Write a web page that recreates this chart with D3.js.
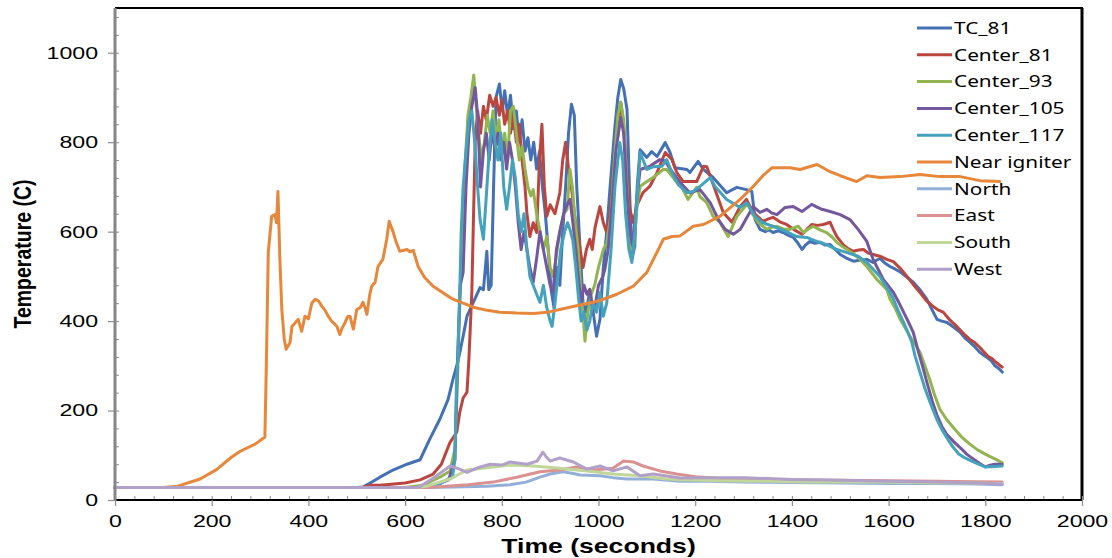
<!DOCTYPE html>
<html>
<head>
<meta charset="utf-8">
<script src="https://cdn.jsdelivr.net/npm/d3@7"></script>
<style>
  html, body { margin: 0; padding: 0; background: #fff; }
  svg { display: block; }
</style>
</head>
<body>
<svg id="chart" width="1112" height="558"></svg>
<script>
// Thermocouple readings, [time in s, temperature in C]
const tc81 = [[0,28],[500,28],[513,29],[534,42],[548,51],[575,67],[604,80],[631,90],[651,136],[672,181],[689,225],[699,270],[709,308],[720,366],[728,411],[741,442],[755,475],[762,470],[769,556],[773,470],[778,480],[783,700],[788,900],[795,930],[801,870],[806,915],[812,860],[818,905],[824,830],[830,870],[836,800],[842,850],[848,780],[854,810],[860,760],[866,800],[872,740],[878,780],[884,700],[890,640],[896,560],[902,470],[908,430],[914,520],[920,480],[926,600],[932,700],[938,820],[944,885],[950,860],[955,700],[962,560],[968,440],[975,420],[982,470],[989,420],[996,366],[1003,404],[1010,520],[1017,600],[1024,700],[1034,835],[1040,900],[1046,940],[1052,920],[1059,873],[1064,700],[1069,538],[1075,567],[1080,700],[1086,783],[1100,766],[1110,779],[1121,768],[1138,799],[1148,777],[1158,743],[1183,739],[1189,732],[1206,757],[1217,739],[1237,721],[1265,687],[1286,699],[1306,694],[1317,690],[1324,627],[1334,605],[1345,600],[1352,604],[1361,598],[1372,602],[1382,598],[1392,592],[1403,587],[1412,575],[1421,560],[1428,570],[1437,578],[1448,574],[1458,576],[1468,570],[1479,571],[1490,560],[1500,549],[1514,540],[1527,534],[1540,536],[1555,538],[1568,531],[1575,536],[1582,540],[1592,530],[1603,522],[1614,516],[1624,510],[1638,498],[1651,487],[1665,470],[1679,449],[1690,425],[1700,404],[1710,400],[1721,397],[1735,386],[1748,375],[1758,362],[1768,353],[1778,343],[1789,330],[1796,324],[1803,319],[1812,312],[1820,300],[1828,294],[1835,286]];

const center81 = [[0,28],[510,28],[530,33],[548,33],[600,38],[631,45],[658,58],[675,80],[693,129],[707,152],[713,196],[720,228],[728,241],[732,315],[738,464],[741,612],[745,800],[750,870],[756,820],[762,880],[768,850],[775,905],[782,880],[788,900],[795,860],[800,895],[806,840],[812,870],[818,820],[824,860],[830,800],[836,840],[842,760],[848,700],[852,640],[858,589],[865,620],[872,598],[878,760],[883,840],[888,700],[893,634],[900,660],[910,640],[920,687],[926,760],[932,800],[938,740],[944,700],[950,640],[956,600],[962,560],[968,520],[975,560],[982,583],[987,560],[993,610],[1003,656],[1010,620],[1017,598],[1024,640],[1030,720],[1038,820],[1046,888],[1052,840],[1058,740],[1065,650],[1072,620],[1080,660],[1092,687],[1106,701],[1121,732],[1138,777],[1152,761],[1162,732],[1175,712],[1203,712],[1217,746],[1224,745],[1241,694],[1258,643],[1276,621],[1293,656],[1306,672],[1320,643],[1340,623],[1350,628],[1361,632],[1375,622],[1389,616],[1405,604],[1421,594],[1431,605],[1441,616],[1453,614],[1465,616],[1479,621],[1486,604],[1493,589],[1506,571],[1516,562],[1527,556],[1538,559],[1548,560],[1558,552],[1568,549],[1582,545],[1596,538],[1610,533],[1624,518],[1638,500],[1651,482],[1665,464],[1678,446],[1692,433],[1702,425],[1713,420],[1727,402],[1741,388],[1755,372],[1768,359],[1778,352],[1789,341],[1798,330],[1806,321],[1814,316],[1820,310],[1828,303],[1835,297]];

const center93 = [[0,28],[600,28],[637,33],[672,51],[693,65],[703,114],[707,225],[712,400],[718,600],[724,750],[730,860],[736,900],[742,950],[747,880],[752,820],[758,760],[764,800],[770,860],[776,820],[782,870],[788,800],[794,850],[800,780],[806,820],[812,760],[818,870],[824,880],[830,820],[836,760],[842,790],[848,740],[854,700],[860,680],[865,694],[872,640],[879,600],[886,560],[893,589],[900,520],[906,500],[912,540],[920,600],[928,640],[935,650],[941,739],[946,700],[952,620],[958,560],[964,460],[969,400],[972,355],[978,420],[985,460],[992,480],[1000,520],[1010,560],[1017,575],[1026,640],[1034,780],[1040,860],[1046,890],[1052,850],[1058,720],[1066,560],[1072,560],[1080,660],[1086,701],[1100,712],[1113,721],[1134,739],[1141,739],[1162,710],[1172,700],[1185,672],[1203,699],[1210,678],[1224,665],[1237,634],[1251,621],[1268,589],[1286,634],[1303,656],[1309,661],[1318,640],[1330,621],[1348,605],[1358,610],[1369,612],[1382,606],[1396,605],[1413,612],[1424,598],[1434,606],[1444,612],[1458,604],[1472,598],[1483,588],[1493,576],[1504,567],[1514,560],[1528,550],[1541,538],[1555,522],[1565,508],[1576,493],[1586,482],[1596,471],[1603,449],[1614,428],[1624,404],[1634,385],[1644,366],[1655,348],[1665,330],[1675,300],[1685,270],[1695,235],[1706,203],[1720,180],[1737,158],[1752,140],[1768,125],[1784,112],[1799,103],[1810,97],[1820,92],[1835,83]];

const center105 = [[0,28],[620,28],[660,32],[690,45],[703,90],[708,300],[714,480],[720,509],[726,700],[732,820],[738,880],[745,922],[750,860],[756,700],[762,780],[768,820],[774,760],[780,830],[786,780],[792,820],[798,760],[804,800],[810,740],[816,800],[822,760],[828,700],[834,620],[840,560],[846,600],[852,560],[858,520],[865,487],[872,540],[879,600],[886,560],[893,520],[900,480],[906,464],[913,560],[920,600],[928,640],[935,660],[941,672],[947,620],[953,560],[958,500],[964,440],[970,480],[976,460],[982,471],[988,420],[994,440],[1000,480],[1009,500],[1013,515],[1020,560],[1028,660],[1036,780],[1046,855],[1052,820],[1058,700],[1065,600],[1070,570],[1078,660],[1086,739],[1106,746],[1127,761],[1138,758],[1148,740],[1169,710],[1189,687],[1210,694],[1231,665],[1248,627],[1262,605],[1279,594],[1293,605],[1306,630],[1320,656],[1334,643],[1348,650],[1358,642],[1369,638],[1386,654],[1403,656],[1421,645],[1441,661],[1452,655],[1462,650],[1479,645],[1500,638],[1520,627],[1537,605],[1555,578],[1568,538],[1589,493],[1600,478],[1610,464],[1621,442],[1631,420],[1641,398],[1651,375],[1662,330],[1670,300],[1680,260],[1690,222],[1700,190],[1710,165],[1720,147],[1735,130],[1750,115],[1762,102],[1775,92],[1788,82],[1800,74],[1810,78],[1820,80],[1835,80]];

const center117 = [[0,28],[640,28],[670,35],[689,47],[698,50],[703,90],[706,250],[709,315],[713,464],[716,600],[720,700],[726,780],[732,850],[738,870],[744,800],[750,700],[755,627],[762,583],[768,680],[774,780],[780,850],[786,800],[792,760],[798,820],[804,700],[810,650],[816,700],[822,760],[828,720],[834,640],[840,600],[846,640],[852,560],[858,500],[865,480],[872,460],[879,442],[886,480],[893,430],[900,400],[904,388],[910,440],[916,500],[922,560],[930,600],[936,620],[941,605],[947,580],[953,520],[958,460],[964,400],[970,420],[976,380],[982,400],[988,440],[996,420],[1003,464],[1010,411],[1017,440],[1026,560],[1034,700],[1044,799],[1050,760],[1056,640],[1063,560],[1069,531],[1075,600],[1086,777],[1100,739],[1113,745],[1131,746],[1141,761],[1152,732],[1165,705],[1183,687],[1196,690],[1210,701],[1231,721],[1241,701],[1265,672],[1293,654],[1306,665],[1324,634],[1338,621],[1350,616],[1361,612],[1375,606],[1389,600],[1400,594],[1410,589],[1431,587],[1442,582],[1452,578],[1462,575],[1472,571],[1483,565],[1493,560],[1514,553],[1537,545],[1546,538],[1555,531],[1568,516],[1582,500],[1592,482],[1603,464],[1610,449],[1620,423],[1631,397],[1640,375],[1648,353],[1655,321],[1665,285],[1675,250],[1688,212],[1700,180],[1710,158],[1720,140],[1732,120],[1745,103],[1758,94],[1772,87],[1786,80],[1800,74],[1820,75],[1835,76]];

const nearIgniter = [[0,28],[100,28],[130,31],[176,47],[210,68],[240,95],[259,109],[290,125],[310,141],[313,300],[317,553],[324,634],[331,638],[334,620],[337,690],[341,540],[345,426],[350,360],[354,337],[362,352],[366,388],[372,395],[379,404],[386,377],[393,411],[400,405],[407,440],[414,449],[421,445],[428,433],[434,425],[441,411],[448,400],[453,395],[459,388],[465,370],[470,385],[476,397],[481,410],[486,411],[493,382],[500,426],[507,430],[513,442],[517,430],[521,415],[527,460],[531,478],[538,487],[544,522],[554,538],[562,583],[567,623],[575,600],[582,575],[589,556],[596,558],[604,560],[610,555],[617,558],[627,522],[640,498],[658,478],[680,462],[699,449],[720,440],[741,431],[770,424],[796,420],[830,418],[865,417],[895,420],[920,426],[950,433],[989,442],[1003,446],[1038,460],[1072,478],[1100,509],[1127,567],[1134,583],[1152,589],[1168,590],[1196,612],[1217,616],[1251,634],[1293,672],[1320,701],[1340,725],[1359,743],[1396,743],[1417,739],[1452,750],[1479,734],[1500,725],[1534,712],[1555,725],[1582,721],[1624,723],[1665,728],[1706,723],[1748,723],[1789,714],[1830,712]];

const north = [[0,28],[640,28],[700,29],[769,31],[817,34],[850,40],[879,51],[900,58],[927,63],[945,60],[962,56],[1003,54],[1030,50],[1059,47],[1113,47],[1169,42],[1230,42],[1300,40],[1400,39],[1500,38],[1600,37],[1700,37],[1780,36],[1835,34]];

const east = [[0,28],[650,28],[679,30],[730,34],[782,40],[831,51],[879,63],[920,67],[955,74],[989,67],[1030,71],[1045,82],[1051,87],[1072,85],[1092,76],[1127,65],[1162,58],[1200,52],[1250,48],[1300,47],[1400,45],[1500,44],[1600,43],[1700,42],[1780,41],[1835,40]];

const south = [[0,28],[620,28],[645,31],[693,47],[728,67],[782,74],[817,78],[865,76],[920,71],[976,65],[1030,58],[1086,54],[1141,47],[1169,45],[1250,43],[1350,42],[1450,40],[1550,40],[1650,39],[1750,38],[1835,37]];

const west = [[0,28],[625,28],[631,30],[660,50],[693,76],[710,70],[728,62],[750,72],[776,80],[800,78],[817,85],[852,80],[873,87],[885,107],[893,95],[900,87],[920,94],[948,85],[976,69],[1003,76],[1030,65],[1059,74],[1086,54],[1113,58],[1169,49],[1230,50],[1300,50],[1400,46],[1500,44],[1600,42],[1700,40],[1780,38],[1835,36]];

const seriesNames = ["TC_81", "Center_81", "Center_93", "Center_105", "Center_117",
                     "Near igniter", "North", "East", "South", "West"];
const seriesData = [tc81, center81, center93, center105, center117,
                    nearIgniter, north, east, south, west];
const seriesColors = ["#4470b4", "#bb4640", "#92b550", "#74589d", "#45a2bc",
                      "#e6873b", "#93afd8", "#d9928f", "#c1d699", "#b1a0c8"];

const xTicks = [0, 200, 400, 600, 800, 1000, 1200, 1400, 1600, 1800, 2000];
const yTicks = [0, 200, 400, 600, 800, 1000];

// ---- layout ----
const svg = d3.select("#chart");
const plotLeft = 115, plotRight = 1082, plotTop = 8, plotBottom = 500;
const x = d3.scaleLinear().domain([0, 2000]).range([plotLeft, plotRight]);
const y = d3.scaleLinear().domain([0, 1100]).range([plotBottom, plotTop]);
const SX = 1.36;   // horizontal stretch applied to text

// ---- series lines ----
const line = d3.line().x(d => x(d[0])).y(d => y(d[1]));
const lines = svg.append("g");
seriesData.forEach((data, i) => {
  lines.append("path")
    .datum(data)
    .attr("d", line)
    .attr("fill", "none")
    .attr("stroke", seriesColors[i])
    .attr("stroke-width", 3)
    .attr("stroke-linejoin", "round")
    .attr("stroke-linecap", "round");
});

// ---- frame ----
svg.append("line").attr("x1", plotLeft).attr("x2", plotRight + 1).attr("y1", plotTop).attr("y2", plotTop)
  .attr("stroke", "#000").attr("stroke-width", 2);
svg.append("line").attr("x1", plotRight).attr("x2", plotRight).attr("y1", plotTop).attr("y2", plotBottom)
  .attr("stroke", "#000").attr("stroke-width", 3);

// ---- minor ticks ----
const minorX = d3.range(0, 2001, 40);
const minorY = d3.range(0, 1101, 40);
svg.append("g").attr("transform", `translate(0,${plotBottom})`)
  .call(d3.axisTop(x).tickValues(minorX).tickSize(4).tickFormat(""))
  .call(g => g.select(".domain").remove())
  .call(g => g.selectAll("line").attr("stroke", "#8c8c8c").attr("stroke-width", 1));
svg.append("g").attr("transform", `translate(${plotLeft},0)`)
  .call(d3.axisRight(y).tickValues(minorY).tickSize(4).tickFormat(""))
  .call(g => g.select(".domain").remove())
  .call(g => g.selectAll("line").attr("stroke", "#8c8c8c").attr("stroke-width", 1));

// ---- bottom axis ----
const xAxis = svg.append("g").attr("transform", `translate(0,${plotBottom})`)
  .call(d3.axisBottom(x).tickValues(xTicks).tickSize(6).tickPadding(9).tickFormat(d3.format("d")));
xAxis.select(".domain").attr("stroke", "#000").attr("stroke-width", 2.2)
  .attr("d", `M${plotLeft},0H${plotRight}`);
xAxis.selectAll(".tick line").attr("stroke", "#8c8c8c").attr("stroke-width", 1.2);
xAxis.selectAll(".tick text")
  .attr("font-family", "'Liberation Sans', Arial, sans-serif")
  .attr("font-size", 17).attr("fill", "#000")
  .attr("transform", `scale(${SX},1)`);

// ---- left axis ----
const yAxis = svg.append("g").attr("transform", `translate(${plotLeft},0)`)
  .call(d3.axisLeft(y).tickValues(yTicks).tickSize(7).tickPadding(5.5).tickFormat(d3.format("d")));
yAxis.select(".domain").attr("stroke", "#858585").attr("stroke-width", 3)
  .attr("d", `M0,${plotTop}V${plotBottom + 1}`);
yAxis.selectAll(".tick line").attr("stroke", "#8c8c8c").attr("stroke-width", 1.2);
yAxis.selectAll(".tick text")
  .attr("font-family", "'Liberation Sans', Arial, sans-serif")
  .attr("font-size", 17).attr("fill", "#000")
  .attr("transform", `scale(${SX},1)`);

// ---- axis titles ----
svg.append("g").attr("transform", `translate(${(plotLeft + plotRight) / 2},553) scale(1.33,1)`)
  .append("text")
  .attr("text-anchor", "middle")
  .attr("font-family", "'Liberation Sans', Arial, sans-serif")
  .attr("font-weight", "bold").attr("font-size", 20)
  .text("Time (seconds)");

svg.append("g").attr("transform", `translate(31,${(plotTop + plotBottom) / 2}) scale(1.2,1) rotate(-90)`)
  .append("text")
  .attr("text-anchor", "middle")
  .attr("font-family", "'Liberation Sans', Arial, sans-serif")
  .attr("font-weight", "bold").attr("font-size", 19.5)
  .text("Temperature (C)");

// ---- legend ----
const legend = svg.append("g");
seriesNames.forEach((name, i) => {
  const cy = 28 + i * 26.8;
  legend.append("line")
    .attr("x1", 917).attr("x2", 952).attr("y1", cy).attr("y2", cy)
    .attr("stroke", seriesColors[i]).attr("stroke-width", 3);
  legend.append("g").attr("transform", `translate(954,${cy + 5.8}) scale(1.3,1)`)
    .append("text")
    .attr("font-family", "'Noto Sans', 'Open Sans', sans-serif")
    .attr("font-size", 16).attr("fill", "#000")
    .text(name);
});
</script>
</body>
</html>
